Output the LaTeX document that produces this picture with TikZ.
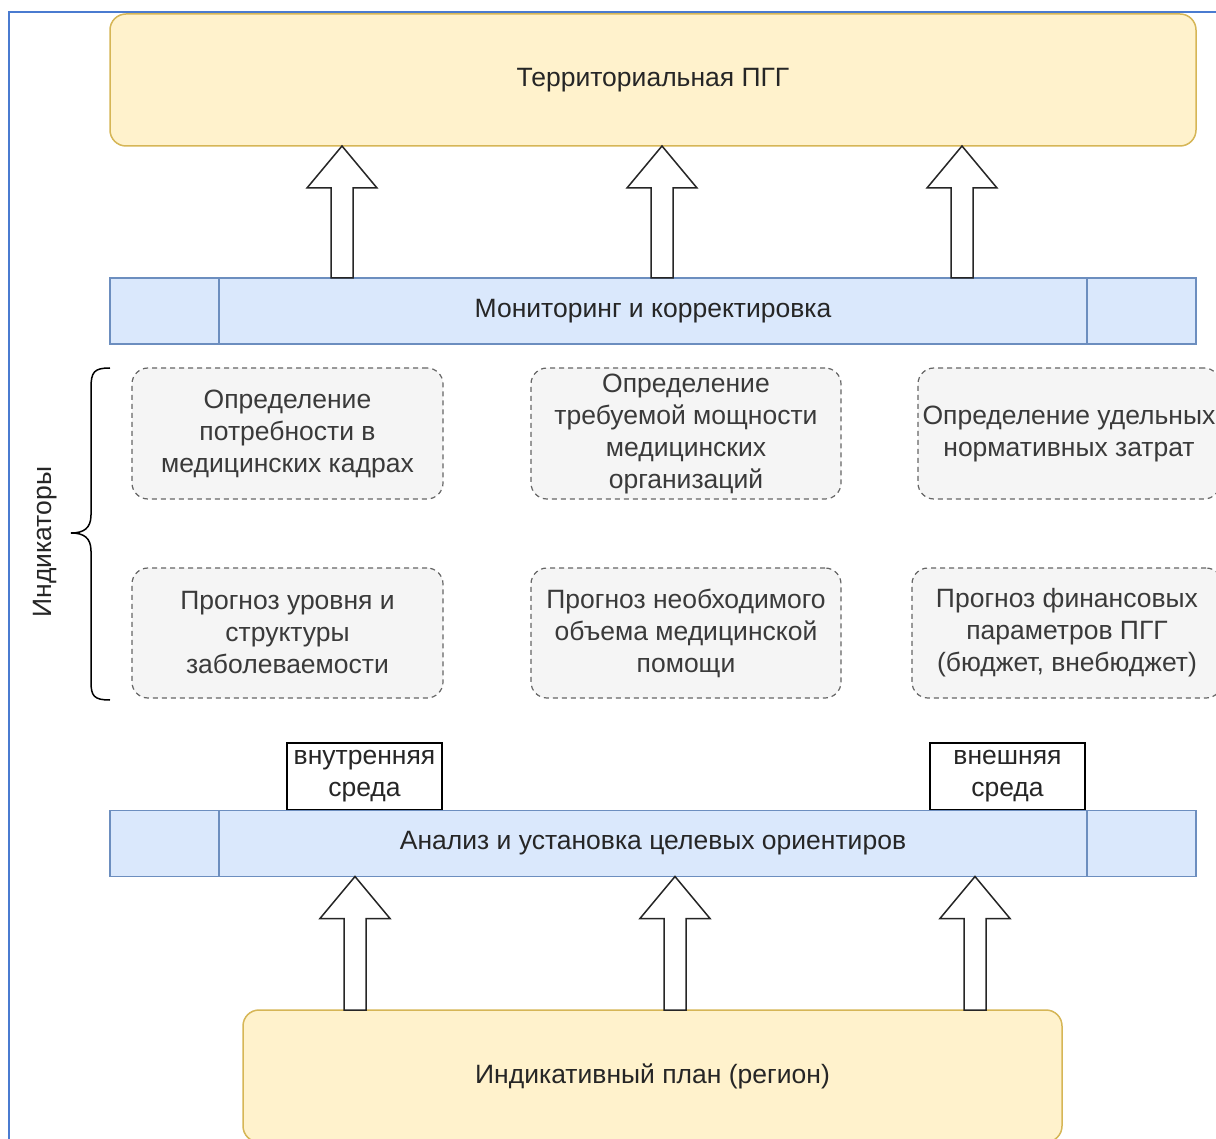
\documentclass[tikz,border=0pt]{standalone}
\usepackage{fontspec}
\setmainfont{Liberation Sans}
\usetikzlibrary{calc}
\definecolor{yfill}{HTML}{FFF2CC}
\definecolor{ystroke}{HTML}{D6B656}
\definecolor{bfill}{HTML}{DAE8FC}
\definecolor{bstroke}{HTML}{6C8EBF}
\definecolor{gfill}{HTML}{F5F5F5}
\definecolor{gstroke}{HTML}{666666}
\definecolor{gtext}{HTML}{3A3A3A}
\definecolor{mtext}{HTML}{262626}
\definecolor{frameblue}{HTML}{4A7BD0}
\newcommand{\myblockarrow}[2]{%
  \draw[arrowbody] ($(#1)+(-11,0)$) -- ($(#2)+(-11,42)$) -- ($(#2)+(-35,42)$) -- (#2)
    -- ($(#2)+(35,42)$) -- ($(#2)+(11,42)$) -- ($(#1)+(11,0)$) -- cycle;}
\begin{document}
\begin{tikzpicture}[x=1pt,y=-1pt,
  every node/.style={inner sep=0pt, outer sep=0pt},
  txt/.style={font=\fontsize{26.5}{32}\selectfont, align=center},
  yellowbox/.style={txt, draw=ystroke, fill=yfill, rounded corners=16pt, line width=1.5pt, text=mtext},
  bluebar/.style={txt, draw=bstroke, fill=bfill, line width=1.5pt, minimum width=1086pt, minimum height=66pt, text=mtext},
  dashbox/.style={txt, draw=gstroke, fill=gfill, dashed, dash pattern=on 5pt off 4pt, rounded corners=16pt, line width=1.2pt, text=gtext},
  envbox/.style={txt, draw=black, fill=white, line width=1.5pt, minimum width=155pt, minimum height=67pt, text=mtext},
  arrowbody/.style={draw=black!85, fill=white, line width=1.5pt, line join=miter},
  divider/.style={draw=bstroke, line width=1.5pt}]
\useasboundingbox (0,0) rectangle (1216,1139);
\fill[white] (0,0) rectangle (1216,1139);
% frame
\draw[frameblue, line width=2.5pt] (9,1145) -- (9,12) -- (1220,12);

% top box
\node[yellowbox, minimum width=1086pt, minimum height=132pt] (top) at (653,80) {Территориальная ПГГ};

% monitoring bar
\node[bluebar] (mon) at (653,311) {Мониторинг и корректировка};
\draw[divider] ([xshift=109pt]mon.north west) -- ([xshift=109pt]mon.south west);
\draw[divider] ([xshift=-109pt]mon.north east) -- ([xshift=-109pt]mon.south east);

% top arrows
\coordinate (xa1) at (342,0);
\coordinate (xa2) at (662,0);
\coordinate (xa3) at (962,0);
\foreach \i in {1,2,3} {
  \coordinate (tb\i) at (xa\i |- mon.north);
  \coordinate (tt\i) at (xa\i |- top.south);
  \myblockarrow{tb\i}{tt\i}
}

% indicator boxes
\node[dashbox, minimum width=311pt, minimum height=131pt] (d11) at (287.5,433.5)
  {Определение\\потребности в\\медицинских кадрах};
\node[dashbox, minimum width=310pt, minimum height=131pt] (d12) at (686,433.5)
  {Определение\\требуемой мощности\\медицинских\\организаций};
\node[dashbox, minimum width=302pt, minimum height=131pt] (d13) at (1069,433.5)
  {Определение удельных\\нормативных затрат};
\node[dashbox, minimum width=311pt, minimum height=130pt] (d21) at (287.5,633)
  {Прогноз уровня и\\структуры\\заболеваемости};
\node[dashbox, minimum width=310pt, minimum height=130pt] (d22) at (686,633)
  {Прогноз необходимого\\объема медицинской\\помощи};
\node[dashbox, minimum width=310pt, minimum height=130pt] (d23) at (1067,633)
  {Прогноз финансовых\\параметров ПГГ\\(бюджет, внебюджет)};

% brace and label
\coordinate (bt) at (110,368);
\coordinate (bb) at (110,700);
\draw[black, line width=1.5pt] (bt) .. controls (94,368) and (91,372) .. (91,388) -- (91,515)
  .. controls (91,528) and (84,533) .. (71,533)
  .. controls (84,533) and (91,538) .. (91,551) -- (91,682)
  .. controls (91,696) and (94,700) .. (bb);
\node[txt, rotate=90, text=mtext] (ind) at (45,542) {Индикаторы};

% environment boxes
\node[envbox] (inner) at (364.5,776.5) {внутренняя\\среда};
\node[envbox] (outer) at (1007.5,776.5) {внешняя\\среда};

% analysis bar
\node[bluebar] (ana) at (653,843.5) {Анализ и установка целевых ориентиров};
\draw[divider] ([xshift=109pt]ana.north west) -- ([xshift=109pt]ana.south west);
\draw[divider] ([xshift=-109pt]ana.north east) -- ([xshift=-109pt]ana.south east);

% bottom box
\node[yellowbox, minimum width=819pt, minimum height=132pt] (bot) at (652.5,1076) {Индикативный план (регион)};

% bottom arrows
\coordinate (xb1) at (355,0);
\coordinate (xb2) at (675,0);
\coordinate (xb3) at (975,0);
\foreach \i in {1,2,3} {
  \coordinate (bb\i) at (xb\i |- bot.north);
  \coordinate (bt\i) at (xb\i |- ana.south);
  \myblockarrow{bb\i}{bt\i}
}
\end{tikzpicture}
\end{document}
